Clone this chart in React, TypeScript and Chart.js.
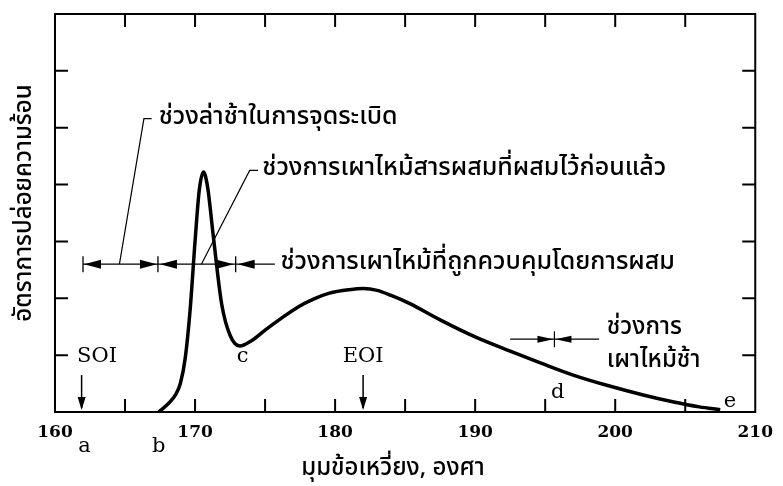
import React, { useEffect, useRef } from "react";
import { Chart, registerables } from "chart.js";

Chart.register(...registerables);

// Heat release rate curve (crank angle in degrees, relative rate)
const crankAngle = [
  167.4, 168.1, 168.6, 168.95, 169.3, 169.65, 170.0, 170.3, 170.6, 170.9, 171.3,
  171.9, 172.5, 173.2, 174.0, 175.0, 176.0, 177.3, 178.5, 179.6, 181.0, 182.0,
  183.0, 184.0, 185.3, 187.5, 190.0, 192.5, 194.7, 197.0, 199.4, 202.0, 204.1,
  206.0, 207.5,
];
const heatRelease = [
  0.0, 0.15, 0.3, 0.5, 0.95, 1.8, 3.0, 3.9, 4.22, 3.95, 3.1,
  1.9, 1.35, 1.16, 1.25, 1.44, 1.62, 1.84, 1.99, 2.09, 2.15, 2.17,
  2.14, 2.05, 1.91, 1.62, 1.32, 1.07, 0.86, 0.65, 0.47, 0.3, 0.18,
  0.09, 0.04,
];

const xTitle = "มุมข้อเหวี่ยง, องศา";
const yTitle = "อัตราการปล่อยความร้อน";

// Combustion phase dimension line
const phaseBounds = [162.0, 167.35, 172.9];
const phaseLineY = [2.6];
const phaseLineEnd = [175.7];
const phaseLabels = [
  "ช่วงล่าช้าในการจุดระเบิด",
  "ช่วงการเผาไหม้สารผสมที่ผสมไว้ก่อนแล้ว",
  "ช่วงการเผาไหม้ที่ถูกควบคุมโดยการผสม",
];
const phaseLabelX = [167.4, 174.8, 176.1];
const phaseLabelY = [5.16, 4.25, 2.6];
const leader1X = [164.6, 166.35, 166.9];
const leader1Y = [2.6, 5.16, 5.16];
const leader2X = [170.45, 173.9, 174.5];
const leader2Y = [2.6, 4.25, 4.25];

// Late combustion phase
const lateLineX = [192.5, 198.85];
const lateLineY = [1.28];
const lateMarkX = [195.66];
const lateLabels = ["ช่วงการ", "เผาไหม้ช้า"];
const lateLabelX = [199.4, 199.4];
const lateLabelY = [1.45, 0.88];

// Point labels
const pointLabels = ["a", "b", "c", "d", "e"];
const pointLabelX = [162.1, 167.4, 173.4, 195.9, 208.2];
const pointLabelY = [-0.6, -0.6, 0.97, 0.35, 0.18];

// Start / end of injection
const eventLabels = ["SOI", "EOI"];
const eventLabelX = [163.0, 182.0];
const eventArrowX = [161.9, 182.0];
const eventLabelY = [0.97, 0.97];
const eventArrowTop = [0.65, 0.65];

const THAI = "'Noto Sans Thai', 'Noto Sans', 'DejaVu Sans', sans-serif";
const SERIF = "'DejaVu Serif', 'Liberation Serif', serif";

function arrowHead(ctx: CanvasRenderingContext2D, tipX: number, tipY: number, dir: number, len: number, half: number) {
  ctx.beginPath();
  ctx.moveTo(tipX, tipY);
  ctx.lineTo(tipX - dir * len, tipY - half);
  ctx.lineTo(tipX - dir * len, tipY + half);
  ctx.closePath();
  ctx.fill();
}

const annotPlugin = {
  id: "annot",
  afterDraw(chart: any) {
    const ctx: CanvasRenderingContext2D = chart.ctx;
    const xs = chart.scales.x;
    const ys = chart.scales.y;
    const X = (v: number) => xs.getPixelForValue(v);
    const Y = (v: number) => ys.getPixelForValue(v);
    const a = chart.chartArea;
    ctx.save();
    ctx.strokeStyle = "#000";
    ctx.fillStyle = "#000";
    // frame
    ctx.lineWidth = 2;
    ctx.strokeRect(a.left, a.top, a.right - a.left, a.bottom - a.top);
    // inward ticks
    const tl = 13;
    ctx.beginPath();
    xs.ticks.forEach((t: any) => {
      if (t.value <= xs.min || t.value >= xs.max) return;
      const px = X(t.value);
      ctx.moveTo(px, a.bottom);
      ctx.lineTo(px, a.bottom - tl);
      ctx.moveTo(px, a.top);
      ctx.lineTo(px, a.top + tl);
    });
    ys.ticks.forEach((t: any) => {
      if (t.value <= ys.min || t.value >= ys.max) return;
      const py = Y(t.value);
      ctx.moveTo(a.left, py);
      ctx.lineTo(a.left + tl, py);
      ctx.moveTo(a.right, py);
      ctx.lineTo(a.right - tl, py);
    });
    ctx.stroke();

    // dimension line
    ctx.lineWidth = 1.3;
    const ly = Y(phaseLineY[0]);
    ctx.beginPath();
    ctx.moveTo(X(phaseBounds[0]), ly);
    ctx.lineTo(X(phaseLineEnd[0]), ly);
    phaseBounds.forEach((b) => {
      ctx.moveTo(X(b), ly - 8);
      ctx.lineTo(X(b), ly + 8);
    });
    ctx.stroke();
    const AL = 17, AH = 4.5;
    arrowHead(ctx, X(phaseBounds[0]) + 1, ly, -1, AL, AH);
    arrowHead(ctx, X(phaseBounds[1]) - 1, ly, 1, AL, AH);
    arrowHead(ctx, X(phaseBounds[1]) + 2, ly, -1, AL, AH);
    arrowHead(ctx, X(phaseBounds[2]) - 2, ly, 1, AL, AH);
    arrowHead(ctx, X(phaseBounds[2]) + 2, ly, -1, AL, AH);

    // leaders
    ctx.lineWidth = 1.2;
    [[leader1X, leader1Y], [leader2X, leader2Y]].forEach(([lx, lyy]) => {
      ctx.beginPath();
      lx.forEach((v: number, i: number) => {
        if (i === 0) ctx.moveTo(X(v), Y(lyy[i]));
        else ctx.lineTo(X(v), Y(lyy[i]));
      });
      ctx.stroke();
    });

    // late combustion marker
    const ly2 = Y(lateLineY[0]);
    ctx.lineWidth = 1.2;
    ctx.beginPath();
    ctx.moveTo(X(lateLineX[0]), ly2);
    ctx.lineTo(X(lateLineX[1]), ly2);
    ctx.moveTo(X(lateMarkX[0]), ly2 - 8);
    ctx.lineTo(X(lateMarkX[0]), ly2 + 8);
    ctx.stroke();
    arrowHead(ctx, X(lateMarkX[0]) - 1, ly2, 1, 16, 3.5);
    arrowHead(ctx, X(lateMarkX[0]) + 1, ly2, -1, 16, 3.5);

    // Thai labels
    ctx.font = `500 25px ${THAI}`;
    ctx.textAlign = "left";
    ctx.textBaseline = "middle";
    phaseLabels.forEach((s, i) => ctx.fillText(s, X(phaseLabelX[i]), Y(phaseLabelY[i])));
    ctx.font = `500 24px ${THAI}`;
    lateLabels.forEach((s, i) => ctx.fillText(s, X(lateLabelX[i]), Y(lateLabelY[i])));

    // serif labels
    ctx.font = `21px ${SERIF}`;
    ctx.textAlign = "center";
    pointLabels.forEach((s, i) => ctx.fillText(s, X(pointLabelX[i]), Y(pointLabelY[i])));
    eventLabels.forEach((s, i) => {
      ctx.fillText(s, X(eventLabelX[i]), Y(eventLabelY[i]));
      const ax = X(eventArrowX[i]);
      ctx.lineWidth = 1.5;
      ctx.beginPath();
      ctx.moveTo(ax, Y(eventArrowTop[i]));
      ctx.lineTo(ax, a.bottom - 4);
      ctx.stroke();
      ctx.beginPath();
      ctx.moveTo(ax, a.bottom - 2);
      ctx.lineTo(ax - 4, a.bottom - 15);
      ctx.lineTo(ax + 4, a.bottom - 15);
      ctx.closePath();
      ctx.fill();
    });

    // axis titles
    ctx.font = `500 24px ${THAI}`;
    ctx.textAlign = "center";
    ctx.fillText(xTitle, 393, 470);
    ctx.save();
    ctx.translate(26, 203);
    ctx.rotate(-Math.PI / 2);
    ctx.fillText(yTitle, 0, 0);
    ctx.restore();

    ctx.restore();
  },
};

export default function App() {
  const ref = useRef<HTMLCanvasElement | null>(null);
  useEffect(() => {
    if (!ref.current) return;
    const chart = new Chart(ref.current, {
      type: "line",
      data: {
        datasets: [
          {
            data: crankAngle.map((x, i) => ({ x, y: heatRelease[i] })),
            borderColor: "#000",
            borderWidth: 3.5,
            pointRadius: 0,
            tension: 0.4,
            cubicInterpolationMode: "monotone",
            fill: false,
          },
        ],
      },
      options: {
        responsive: false,
        animation: false,
        events: [],
        layout: { padding: { top: 14, right: 20, left: 0, bottom: 0 } },
        plugins: { legend: { display: false }, tooltip: { enabled: false } },
        scales: {
          x: {
            type: "linear",
            min: 160,
            max: 210,
            grid: { display: false, drawTicks: false },
            border: { display: false },
            ticks: {
              stepSize: 5,
              autoSkip: false,
              maxRotation: 0,
              padding: 10,
              color: "#000",
              font: { family: SERIF, size: 17, weight: "bold" },
              callback: (v: any) => (Number(v) % 10 === 0 ? String(v) : ""),
            },
            afterFit: (s: any) => {
              s.height = 74;
            },
          },
          y: {
            min: 0,
            max: 7,
            grid: { display: false, drawTicks: false },
            border: { display: false },
            ticks: { stepSize: 1, display: false },
            afterFit: (s: any) => {
              s.width = 55;
            },
          },
        },
      },
      plugins: [annotPlugin],
    } as any);
    return () => chart.destroy();
  }, []);
  return (
    <div style={{ position: "fixed", left: 0, top: 0, width: 783, height: 486, background: "#fff" }}>
      <canvas ref={ref} width={783} height={486} style={{ width: 783, height: 486 }} />
    </div>
  );
}
